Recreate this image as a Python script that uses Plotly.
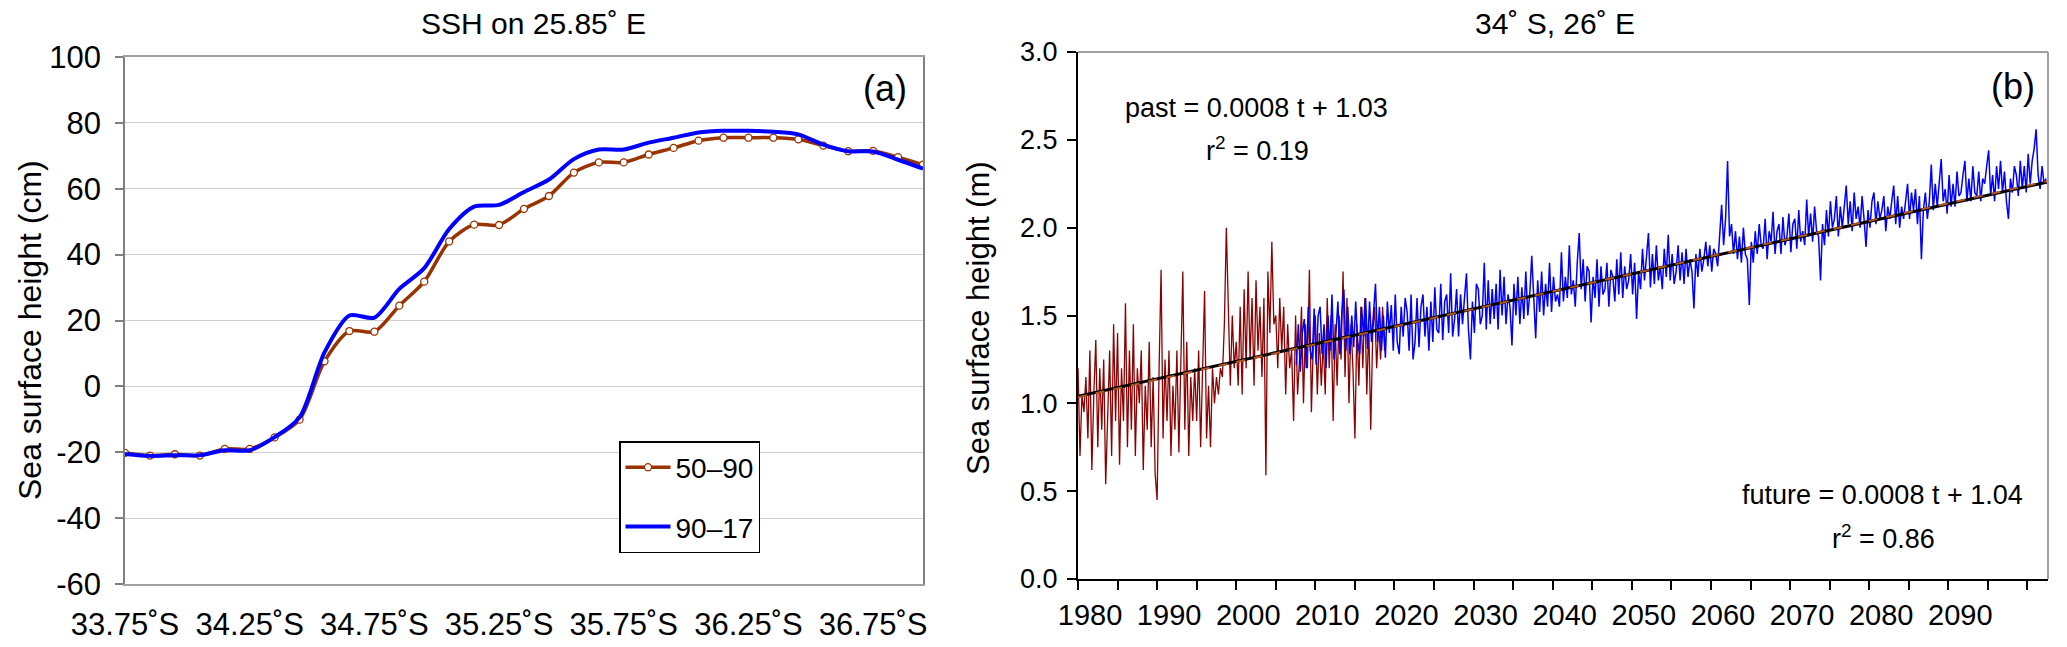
import plotly.graph_objects as go

# ---------------- Panel (a) data ----------------
lat = [33.75, 33.85, 33.95, 34.05, 34.15, 34.25, 34.35, 34.45, 34.55, 34.65, 34.75,
       34.85, 34.95, 35.05, 35.15, 35.25, 35.35, 35.45, 35.55, 35.65, 35.75, 35.85,
       35.95, 36.05, 36.15, 36.25, 36.35, 36.45, 36.55, 36.65, 36.75, 36.85, 36.95]
ssh_50_90 = [-20.2, -21.0, -20.6, -21.0, -19.0, -19.0, -15.5, -10.1, 7.6, 16.8, 16.6,
             24.5, 31.8, 44.0, 49.1, 49.0, 53.9, 57.8, 64.9, 68.0, 68.0, 70.4,
             72.4, 74.6, 75.5, 75.5, 75.5, 75.0, 73.1, 71.4, 71.5, 69.6, 67.3]
ssh_90_17 = [-20.5, -21.1, -20.9, -20.9, -19.4, -19.4, -15.4, -9.4, 10.3, 21.5, 20.9,
             29.6, 35.9, 47.8, 54.6, 55.1, 59.0, 62.8, 69.0, 71.9, 71.9, 74.0,
             75.5, 77.1, 77.6, 77.6, 77.3, 76.5, 73.4, 71.4, 71.3, 68.8, 66.1]
lat_tickvals = [33.75, 34.25, 34.75, 35.25, 35.75, 36.25, 36.75]
lat_ticktext = ["33.75˚S", "34.25˚S", "34.75˚S", "35.25˚S", "35.75˚S", "36.25˚S", "36.75˚S"]
ssh_tickvals = [-60, -40, -20, 0, 20, 40, 60, 80, 100]
ssh_ticktext = ["-60", "-40", "-20", "0", "20", "40", "60", "80", "100"]

# ---------------- Panel (b) data (quarterly samples) ----------------
past_start, past_step = 1980.0, 0.25
past_ssh = [
    1.20, 0.70, 1.05, 0.95,  1.15, 0.80, 1.30, 0.62,  1.05, 1.36, 0.75, 1.20,
    0.85, 1.25, 0.54, 1.00,  1.30, 0.70, 1.45, 0.90,  1.40, 0.65, 1.20, 0.90,
    1.57, 0.75, 1.30, 0.85,  1.45, 0.70, 1.20, 1.00,  1.30, 0.62, 1.10, 0.85,
    1.35, 0.75, 1.15, 0.60,  0.45, 1.20, 1.76, 0.80,  1.25, 0.90, 1.30, 0.70,
    1.10, 0.85, 1.30, 0.72,  1.20, 1.75, 0.85, 1.35,  0.70, 1.15, 0.90, 1.20,
    0.90, 1.30, 0.75, 1.15,  1.64, 0.80, 1.10, 0.75,  1.20, 1.00, 1.15, 1.05,
    1.20, 1.15, 1.45, 2.00,  1.45, 1.10, 1.50, 1.20,  1.35, 1.10, 1.55, 1.05,
    1.65, 1.20, 1.75, 1.25,  1.60, 1.10, 1.70, 1.30,  1.55, 1.15, 1.60, 0.59,
    1.75, 1.40, 1.92, 1.45,  1.50, 1.20, 1.60, 1.30,  1.55, 1.05, 1.45, 1.20,
    1.30, 0.90, 1.50, 1.05,  1.25, 1.55, 1.00, 1.45,  1.20, 1.76, 0.95, 1.35,
    1.50, 1.05, 1.40, 1.10,  1.35, 1.05, 1.60, 1.20,  1.50, 0.90, 1.45, 1.10,
    1.50, 1.25, 1.75, 1.15,  1.60, 1.00, 1.45, 1.20,  0.80, 1.45, 1.10, 1.55,
    1.20, 1.60, 1.05, 1.45,  0.85, 1.40, 1.55, 1.20,  1.45, 1.25, 1.55, 1.30]
future_start, future_step = 2007.6, 0.25
future_ssh = [
    1.22, 1.45, 1.18, 1.40,  1.48, 1.20, 1.55, 1.30,  1.25, 1.54, 1.22, 1.50,  # 2008-2010
    1.55, 1.28, 1.45, 1.20,  1.50, 1.30, 1.62, 1.25,  1.40, 1.58, 1.28, 1.52,  # 2011-2013
    1.65, 1.30, 1.55, 1.28,  1.50, 1.32, 1.58, 1.35,  1.28, 1.55, 1.38, 1.60,  # 2014-2016
    1.31, 1.58, 1.35, 1.52,  1.68, 1.35, 1.55, 1.30,  1.50, 1.26, 1.58, 1.40,  # 2017-2019
    1.56, 1.30, 1.62, 1.35,  1.28, 1.55, 1.38, 1.60,  1.52, 1.30, 1.62, 1.25,  # 2020-2022
    1.35, 1.60, 1.32, 1.55,  1.62, 1.38, 1.55, 1.30,  1.58, 1.35, 1.66, 1.42,  # 2023-2025
    1.40, 1.68, 1.36, 1.58,  1.62, 1.40, 1.74, 1.38,  1.48, 1.65, 1.38, 1.62,  # 2026-2028
    1.45, 1.60, 1.74, 1.42,  1.25, 1.58, 1.40, 1.68,  1.65, 1.45, 1.50, 1.80,  # 2029-2031
    1.42, 1.70, 1.45, 1.65,  1.48, 1.68, 1.42, 1.76,  1.50, 1.72, 1.45, 1.62,  # 2032-2034
    1.55, 1.33, 1.68, 1.50,  1.72, 1.45, 1.66, 1.48,  1.75, 1.50, 1.62, 1.84,  # 2035-2037
    1.58, 1.37, 1.70, 1.52,  1.75, 1.50, 1.68, 1.55,  1.80, 1.52, 1.72, 1.58,  # 2038-2040
    1.62, 1.55, 1.86, 1.58,  1.72, 1.60, 1.90, 1.62,  1.70, 1.55, 1.80, 1.97,  # 2041-2043
    1.65, 1.82, 1.58, 1.78,  1.75, 1.46, 1.72, 1.60,  1.82, 1.55, 1.78, 1.62,  # 2044-2046
    1.65, 1.80, 1.55, 1.76,  1.72, 1.58, 1.82, 1.62,  1.86, 1.60, 1.78, 1.65,  # 2047-2049
    1.70, 1.85, 1.62, 1.80,  1.48, 1.75, 1.65, 1.88,  1.70, 1.82, 1.97, 1.66,  # 2050-2052
    1.85, 1.68, 1.90, 1.70,  1.78, 1.65, 1.88, 1.72,  1.96, 1.70, 1.85, 1.68,  # 2053-2055
    1.75, 1.90, 1.70, 1.86,  1.68, 1.88, 1.72, 1.82,  1.75, 1.54, 1.85, 1.72,  # 2056-2058
    1.88, 1.75, 1.82, 1.92,  1.78, 1.90, 1.75, 1.88,  1.85, 1.78, 1.95, 2.13,  # 2059-2061
    1.90, 2.05, 2.38, 1.95,  2.02, 1.85, 1.98, 1.82,  1.95, 1.80, 2.00, 1.85,  # 2062-2064
    1.82, 1.56, 1.92, 1.80,  1.98, 1.85, 2.02, 1.90,  1.88, 2.05, 1.82, 1.98,  # 2065-2067
    1.92, 2.09, 1.85, 1.98,  2.02, 1.85, 2.06, 1.90,  1.95, 2.08, 1.86, 2.02,  # 2068-2070
    2.05, 1.88, 2.10, 1.92,  1.98, 1.90, 2.16, 1.95,  2.08, 1.92, 2.12, 1.98,  # 2071-2073
    1.95, 1.70, 2.02, 1.90,  2.10, 1.95, 2.15, 2.00,  2.05, 2.18, 1.95, 2.12,  # 2074-2076
    2.00, 2.12, 2.24, 2.02,  2.15, 1.98, 2.20, 2.05,  2.12, 2.00, 2.18, 2.05,  # 2077-2079
    1.89, 2.10, 2.00, 2.15,  2.20, 2.02, 2.15, 2.05,  2.10, 2.18, 1.98, 2.12,  # 2080-2082
    2.05, 2.15, 2.24, 2.02,  2.18, 2.00, 2.12, 2.05,  2.15, 2.25, 2.05, 2.20,  # 2083-2085
    2.10, 2.22, 2.02, 2.18,  1.82, 2.10, 2.20, 2.05,  2.15, 2.36, 2.10, 2.25,  # 2086-2088
    2.12, 2.28, 2.39, 2.15,  2.22, 2.08, 2.30, 2.12,  2.25, 2.12, 2.32, 2.18,  # 2089-2091
    2.20, 2.30, 2.38, 2.15,  2.28, 2.15, 2.35, 2.20,  2.18, 2.32, 2.15, 2.28,  # 2092-2094
    2.25, 2.35, 2.44, 2.18,  2.30, 2.15, 2.35, 2.22,  2.38, 2.20, 2.32, 2.15,  # 2095-2097
    2.05, 2.28, 2.20, 2.35,  2.30, 2.18, 2.38, 2.22,  2.35, 2.20, 2.42, 2.25,  # 2098-2100
    2.38, 2.45, 2.56, 2.30,  2.22, 2.35, 2.25, 2.28]                            # 2101-2102
past_t = [past_start + i * past_step for i in range(len(past_ssh))]
future_t = [future_start + i * future_step for i in range(len(future_ssh))]

trend_t = [1980.0, 2102.6]
trend_future = [1.04, 2.26]
trend_past = [1.035, 2.265]
year_tickvals = [1980, 1990, 2000, 2010, 2020, 2030, 2040, 2050, 2060, 2070, 2080, 2090]
year_ticktext = [str(v) for v in year_tickvals]
m_tickvals = [0, 0.5, 1.0, 1.5, 2.0, 2.5, 3.0]
m_ticktext = ["0.0", "0.5", "1.0", "1.5", "2.0", "2.5", "3.0"]

# ---------------- Figure ----------------
W, H = 2067, 647
FONT = "Liberation Sans, Arial, sans-serif"
NARROW = "Liberation Sans Narrow, Arial Narrow, Liberation Sans, sans-serif"
BROWN = "#993300"


def px(x):
    return x / W


def py(y):
    return 1 - y / H


fig = go.Figure()

fig.add_trace(go.Scatter(
    x=lat, y=ssh_50_90, name="50\u201390", mode="lines+markers",
    line=dict(color=BROWN, width=3.5, shape="spline", smoothing=0.8),
    marker=dict(symbol="circle", size=7, color="white", line=dict(color=BROWN, width=1.3)),
    xaxis="x", yaxis="y", legendgroup="a"))
fig.add_trace(go.Scatter(
    x=lat, y=ssh_90_17, name="90\u201317", mode="lines",
    line=dict(color="#0000ff", width=4, shape="spline", smoothing=0.8),
    xaxis="x", yaxis="y", legendgroup="b"))

fig.add_trace(go.Scatter(
    x=past_t, y=past_ssh, mode="lines", line=dict(color="#8b0000", width=1.3),
    xaxis="x2", yaxis="y2", showlegend=False))
fig.add_trace(go.Scatter(
    x=future_t, y=future_ssh, mode="lines", line=dict(color="#0000ff", width=1.5),
    xaxis="x2", yaxis="y2", showlegend=False))
fig.add_trace(go.Scatter(
    x=trend_t, y=trend_future, mode="lines", line=dict(color="black", width=3),
    xaxis="x2", yaxis="y2", showlegend=False))
fig.add_trace(go.Scatter(
    x=trend_t, y=trend_past, mode="lines", line=dict(color="#b5541c", width=2, dash="dash"),
    xaxis="x2", yaxis="y2", showlegend=False))

fig.update_layout(
    template="none",
    width=W, height=H, autosize=False,
    margin=dict(l=0, r=0, t=0, b=0, pad=0),
    paper_bgcolor="white", plot_bgcolor="white",
    font=dict(family=FONT, color="black", size=26),
    legend=dict(x=px(619), y=py(441), xanchor="left", yanchor="top",
                bordercolor="black", borderwidth=1.5, bgcolor="white",
                font=dict(size=28, family=FONT), tracegroupgap=20, itemwidth=45),
    xaxis=dict(domain=[px(125), px(923)], range=[33.75, 36.95], automargin=False,
               tickvals=lat_tickvals, ticktext=lat_ticktext,
               tickfont=dict(size=31), showgrid=False, zeroline=False,
               showline=True, linecolor="#a0a0a0", linewidth=1.5, mirror=True,
               ticks="outside", ticklen=12, tickcolor="rgba(0,0,0,0)", anchor="y"),
    yaxis=dict(domain=[1 - 584 / H, 1 - 57 / H], range=[-60, 100], automargin=False,
               tickvals=ssh_tickvals, ticktext=ssh_ticktext,
               tickfont=dict(size=31), showgrid=True, gridcolor="#d0d0d0", gridwidth=1.3,
               zeroline=False, showline=True, linecolor="#808080", linewidth=1.5, mirror=True,
               ticks="outside", ticklen=8, tickcolor="#808080", tickwidth=1.5,
               ticklabelstandoff=8, anchor="x"),
    xaxis2=dict(domain=[px(1078), px(2048)], range=[1980, 2102.6], automargin=False,
                tickvals=year_tickvals, ticktext=year_ticktext,
                tickfont=dict(size=29, family=NARROW), ticklabelshift=12,
                showgrid=False, zeroline=False, showline=True, linecolor="black", linewidth=2,
                ticks="outside", ticklen=9, tickwidth=2, tickcolor="black",
                minor=dict(dtick=5, tick0=1980, ticks="outside", ticklen=9, tickwidth=2,
                           tickcolor="black", showgrid=False),
                anchor="y2"),
    yaxis2=dict(domain=[1 - 579 / H, 1 - 52 / H], range=[0, 3], automargin=False,
                tickvals=m_tickvals, ticktext=m_ticktext, tickfont=dict(size=27),
                showgrid=False, zeroline=False, showline=True, linecolor="black", linewidth=2,
                ticks="outside", ticklen=9, tickwidth=2, tickcolor="black",
                ticklabelstandoff=4, anchor="x2"),
    shapes=[
        dict(type="line", xref="x2 domain", yref="y2 domain", x0=0, x1=1, y0=1, y1=1,
             line=dict(color="#a0a0a0", width=2)),
        dict(type="line", xref="x2 domain", yref="y2 domain", x0=1, x1=1, y0=0, y1=1,
             line=dict(color="#a0a0a0", width=2)),
    ],
)

ann = [
    dict(text="SSH on 25.85˚ E", x=px(533), y=py(24), size=30, angle=0),
    dict(text="(a)", x=px(885), y=py(89), size=36, angle=0),
    dict(text="34˚ S, 26˚ E", x=px(1555), y=py(24), size=30, angle=0),
    dict(text="(b)", x=px(2013), y=py(86), size=36, angle=0),
    dict(text="past = 0.0008 t + 1.03", x=px(1256), y=py(108), size=27, angle=0),
    dict(text="r<sup>2</sup> = 0.19", x=px(1257), y=py(149), size=27, angle=0),
    dict(text="future = 0.0008 t + 1.04", x=px(1882), y=py(495), size=27, angle=0),
    dict(text="r<sup>2</sup> = 0.86", x=px(1883), y=py(537), size=27, angle=0),
    dict(text="Sea surface height (cm)", x=px(30), y=py(330), size=32, angle=-90),
    dict(text="Sea surface height (m)", x=px(978), y=py(318), size=31, angle=-90),
]
for a in ann:
    fig.add_annotation(text=a["text"], x=a["x"], y=a["y"], xref="paper", yref="paper",
                       xanchor="center", yanchor="middle", showarrow=False,
                       textangle=a["angle"], font=dict(size=a["size"], family=FONT, color="black"))

fig.write_html("out.html", config={"displayModeBar": False},
               post_script="document.body.style.margin='0';")
